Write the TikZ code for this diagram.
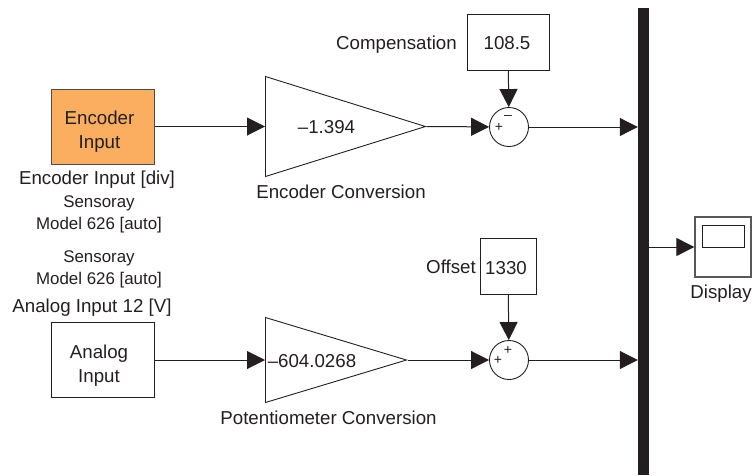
\documentclass[tikz,border=0pt]{standalone}
\usepackage{fontspec}
\setmainfont{Liberation Sans}
\usepackage{xcolor}
\usetikzlibrary{arrows.meta,shapes.geometric}
\definecolor{ink}{RGB}{35,31,32}
\definecolor{encfill}{RGB}{251,174,96}
\tikzset{
  blk/.style={draw=ink,line width=1pt,rectangle,inner sep=0pt},
  gain/.style={draw=ink,line width=0.9pt,isosceles triangle,isosceles triangle stretches,shape border rotate=0,inner sep=0pt,anchor=lower side},
  sumb/.style={draw=ink,line width=0.9pt,circle,minimum size=39pt,inner sep=0pt},
  lbl/.style={text=ink,inner sep=0pt,align=center,font=\fontsize{18.7}{24}\selectfont},
  sml/.style={text=ink,inner sep=0pt,font=\fontsize{16.9}{20}\selectfont},
  sgn/.style={text=ink,inner sep=0pt,font=\fontsize{14}{14}\selectfont},
  sig/.style={draw=ink,line width=1pt,-{Triangle[length=18pt,width=18pt]}}
}
\begin{document}
\begin{tikzpicture}[x=1pt,y=-1pt]
     \useasboundingbox (0,0) rectangle (752,475);
     \node [blk,fill=encfill,minimum width=103pt,minimum height=75pt,draw=ink!80] (EI) at (102.5,126.5) {};
     \node [blk,minimum width=103pt,minimum height=75pt] (AI) at (102.5,359.5) {};
     \node [gain,minimum width=100pt,minimum height=160pt] (EC) at (265,126.5) {};
     \node [gain,minimum width=85pt,minimum height=141pt] (PC) at (265,360) {};
     \node [sumb] (SE) at (509,127) {};
     \node [sumb] (SA) at (509,360) {};
     \node [blk,minimum width=82pt,minimum height=56pt] (CB) at (508,42) {};
     \node [blk,minimum width=56pt,minimum height=56pt] (OB) at (508,266) {};
     \node [fill=ink,rectangle,inner sep=0pt,minimum width=11pt,minimum height=467pt] (BS) at (643.5,241.5) {};
     \node [draw=ink!75,line width=1.3pt,rectangle,inner sep=0pt,minimum width=56pt,minimum height=60pt] (DS) at (723,247) {};
     \node [draw=ink,line width=0.9pt,rectangle,inner sep=0pt,minimum width=42pt,minimum height=22pt] (DW) at (723,236) {};
     \node [lbl] (CV) at (507,43) {108.5};
     \node [lbl] (OV) at (506,268) {1330};
     \node [lbl] (EIT) at (99.5,131.5) {Encoder\\Input};
     \node [lbl] (AIT) at (99,365.5) {Analog\\Input};
     \node [lbl] (EV) at (326.5,127) {--1.394};
     \node [lbl] (PV) at (312,361.5) {--604.0268};
     \node [lbl] (ECL) at (341,192) {Encoder Conversion};
     \node [lbl] (PCL) at (328.5,418) {Potentiometer Conversion};
     \node [lbl] (CL) at (396.5,45) {Compensation};
     \node [lbl] (OL) at (451,267) {Offset};
     \node [lbl] (EL) at (97,180) {Encoder Input [div]};
     \node [sml] (ES) at (99,203) {Sensoray};
     \node [sml] (EM) at (99,225) {Model 626 [auto]};
     \node [sml] (AS) at (99,258) {Sensoray};
     \node [sml] (AM) at (99,280) {Model 626 [auto]};
     \node [lbl] (AL) at (92,308) {Analog Input 12 [V]};
     \node [lbl] (DL) at (721,294) {Display};
     \node [sgn] (SEP) at (499,127) {+};
     \node [sgn] (SEM) at (508,117) {--};
     \node [sgn] (SAP) at (498,360) {+};
     \node [sgn] (SAQ) at (508,350) {+};
     \draw [sig] (EI) -- (EC.lower side);
     \draw [sig] (AI.east |- PC.lower side) -- (PC.lower side);
     \draw [sig] (EC.apex) -- (SE);
     \draw [sig] (PC.apex) -- (SA);
     \draw [sig] (CB) -- (SE);
     \draw [sig] (OB) -- (SA);
     \draw [sig] (SE) -- (BS.west |- SE);
     \draw [sig] (SA) -- (BS.west |- SA);
     \draw [sig] (BS.east |- DS) -- (DS);
    \end{tikzpicture}
\end{document}
